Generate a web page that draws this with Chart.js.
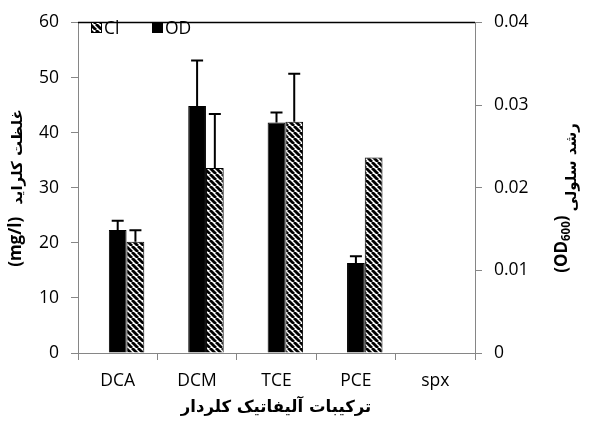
<!DOCTYPE html>
<html>
<head>
    <meta charset="utf-8">
    <title>Cl / OD bar chart</title>
    <script src="https://cdn.jsdelivr.net/npm/chart.js"></script>
    <style>
        html, body { margin: 0; padding: 0; background: #fff; }
        #wrap { width: 595px; height: 431px; }
    </style>
</head>
<body>
    <div id="wrap"><canvas id="chart"></canvas></div>
    <script>
        // data
        var categories = ['DCA', 'DCM', 'TCE', 'PCE', 'spx'];
        var clValues = [20.2, 33.6, 42.0, 35.5, null];
        var clErrors = [2.1, 9.8, 8.7, 0, 0];
        var odValues = [0.0149, 0.0299, 0.0279, 0.0109, null];
        var odErrors = [0.0011, 0.0055, 0.0012, 0.0008, 0];
        var leftTicks = [0, 10, 20, 30, 40, 50, 60];
        var rightTicks = [0, 0.01, 0.02, 0.03, 0.04];
        var emptySlot = [0, 0, 0, 0, 0];

        var axisGray = '#868686';
        var tickFont = { family: 'Open Sans', size: 17.5 };

        // diagonal hatch for the Cl bars
        function makeHatch() {
            var s = 6;
            var c = document.createElement('canvas');
            c.width = s; c.height = s;
            var g = c.getContext('2d');
            g.fillStyle = '#fff';
            g.fillRect(0, 0, s, s);
            g.strokeStyle = '#000';
            g.lineWidth = 2.8;
            [-s, 0, s].forEach(function (k) {
                g.beginPath();
                g.moveTo(k, 0);
                g.lineTo(k + s, s);
                g.stroke();
            });
            return document.createElement('canvas').getContext('2d').createPattern(c, 'repeat');
        }
        var hatch = makeHatch();

        // error bars (upper half only), positioned through the chart scales
        var errorBars = {
            id: 'errorBars',
            afterDatasetsDraw: function (chart) {
                var ctx = chart.ctx;
                var sets = [
                    { index: 1, values: odValues, errors: odErrors, axis: 'y1' },
                    { index: 2, values: clValues, errors: clErrors, axis: 'y' }
                ];
                ctx.save();
                ctx.strokeStyle = '#000';
                ctx.lineWidth = 2;
                sets.forEach(function (s) {
                    var meta = chart.getDatasetMeta(s.index);
                    var scale = chart.scales[s.axis];
                    s.values.forEach(function (v, i) {
                        if (v == null || !s.errors[i]) return;
                        var bar = meta.data[i];
                        var top = scale.getPixelForValue(v + s.errors[i]);
                        ctx.beginPath();
                        ctx.moveTo(bar.x, bar.y);
                        ctx.lineTo(bar.x, top);
                        ctx.moveTo(bar.x - 6, top);
                        ctx.lineTo(bar.x + 6, top);
                        ctx.stroke();
                    });
                });
                ctx.restore();
            }
        };

        // top frame line, legend and axis titles
        var decorations = {
            id: 'decorations',
            afterDraw: function (chart) {
                var ctx = chart.ctx;
                var a = chart.chartArea;
                ctx.save();

                ctx.strokeStyle = '#000';
                ctx.lineWidth = 1.5;
                ctx.beginPath();
                ctx.moveTo(a.left, a.top);
                ctx.lineTo(a.right, a.top);
                ctx.stroke();

                // legend
                ctx.lineWidth = 1;
                ctx.fillStyle = hatch;
                ctx.fillRect(91, 22, 11, 11);
                ctx.strokeRect(91.5, 22.5, 10, 10);
                ctx.fillStyle = '#000';
                ctx.fillRect(152, 22, 11, 11);
                ctx.font = '17.5px "Open Sans"';
                ctx.textBaseline = 'middle';
                ctx.textAlign = 'left';
                ctx.fillText('Cl', 104, 29);
                ctx.fillText('OD', 165, 29);

                // bottom title
                ctx.font = 'bold 16.5px "DejaVu Sans"';
                ctx.textAlign = 'center';
                ctx.direction = 'rtl';
                ctx.fillText('ترکیبات آلیفاتیک کلردار', 276, 408);

                // left title (reads bottom to top)
                ctx.save();
                ctx.translate(16, 188);
                ctx.rotate(-Math.PI / 2);
                drawTitle(ctx, 'غلظت کلراید', '(mg/l)', null, 2, 12);
                ctx.restore();

                // right title (reads bottom to top)
                ctx.save();
                ctx.translate(562, 198);
                ctx.rotate(-Math.PI / 2);
                drawTitle(ctx, 'رشد سلولی', '(OD', '600', 10, 4);
                ctx.restore();

                ctx.restore();
            }
        };

        // latin part on the left, persian part on the right, centred on 0
        function drawTitle(ctx, persian, latin, sub, faShift, gap) {
            var fa = 'bold 15px "DejaVu Sans"';
            var la = 'bold 17px "Open Sans"';
            var sb = 'bold 11.5px "Open Sans"';
            ctx.textBaseline = 'middle';
            ctx.direction = 'ltr';
            ctx.font = la;
            var wLatin = ctx.measureText(latin).width;
            var wClose = sub ? ctx.measureText(')').width : 0;
            ctx.font = sb;
            var wSub = sub ? ctx.measureText(sub).width : 0;
            ctx.font = fa;
            var wFa = ctx.measureText(persian).width;
            var total = wLatin + wSub + wClose + gap + wFa;
            var x = -total / 2;
            ctx.textAlign = 'left';
            ctx.font = la;
            ctx.fillText(latin, x, 0);
            x += wLatin;
            if (sub) {
                ctx.font = sb;
                ctx.fillText(sub, x, 5);
                x += wSub;
                ctx.font = la;
                ctx.fillText(')', x, 0);
                x += wClose;
            }
            x += gap;
            ctx.font = fa;
            ctx.direction = 'rtl';
            ctx.textAlign = 'right';
            ctx.fillText(persian, x + wFa, faShift);
        }

        var ctx = document.getElementById('chart').getContext('2d');
        var chart = new Chart(ctx, {
            type: 'bar',
            data: {
                labels: categories,
                datasets: [
                    {
                        label: 'spacer',
                        data: emptySlot,
                        yAxisID: 'y',
                        backgroundColor: 'rgba(0,0,0,0)',
                        borderWidth: 0
                    },
                    {
                        label: 'OD',
                        data: odValues,
                        yAxisID: 'y1',
                        backgroundColor: '#000',
                        borderColor: '#000',
                        borderWidth: 1
                    },
                    {
                        label: 'Cl',
                        data: clValues,
                        yAxisID: 'y',
                        backgroundColor: hatch,
                        borderColor: '#000',
                        borderWidth: 1
                    }
                ]
            },
            options: {
                responsive: true,
                maintainAspectRatio: false,
                animation: false,
                categoryPercentage: 0.67,
                barPercentage: 1,
                layout: { padding: { top: 20, left: 0, right: 0, bottom: 0 } },
                plugins: {
                    legend: { display: false },
                    tooltip: { enabled: false }
                },
                scales: {
                    x: {
                        grid: { offset: true, drawOnChartArea: false, tickLength: 7, color: axisGray },
                        border: { color: axisGray, width: 1 },
                        ticks: { font: tickFont, color: '#000', padding: 11, maxRotation: 0 },
                        afterFit: function (s) { s.height = 78; }
                    },
                    y: {
                        position: 'left',
                        min: 0,
                        max: 60,
                        afterBuildTicks: function (s) { s.ticks = leftTicks.map(function (v) { return { value: v }; }); },
                        grid: { drawOnChartArea: false, tickLength: 7, color: axisGray },
                        border: { color: axisGray, width: 1 },
                        ticks: { font: tickFont, color: '#000', padding: 12 },
                        afterFit: function (s) { s.width = 78; }
                    },
                    y1: {
                        position: 'right',
                        min: 0,
                        max: 0.04,
                        afterBuildTicks: function (s) { s.ticks = rightTicks.map(function (v) { return { value: v }; }); },
                        grid: { drawOnChartArea: false, tickLength: 7, color: axisGray },
                        border: { color: axisGray, width: 1 },
                        ticks: {
                            font: tickFont, color: '#000', padding: 12,
                            callback: function (v) { return v === 0 ? '0' : v.toFixed(2); }
                        },
                        afterFit: function (s) { s.width = 120; }
                    }
                }
            },
            plugins: [errorBars, decorations]
        });
    </script>
</body>
</html>
